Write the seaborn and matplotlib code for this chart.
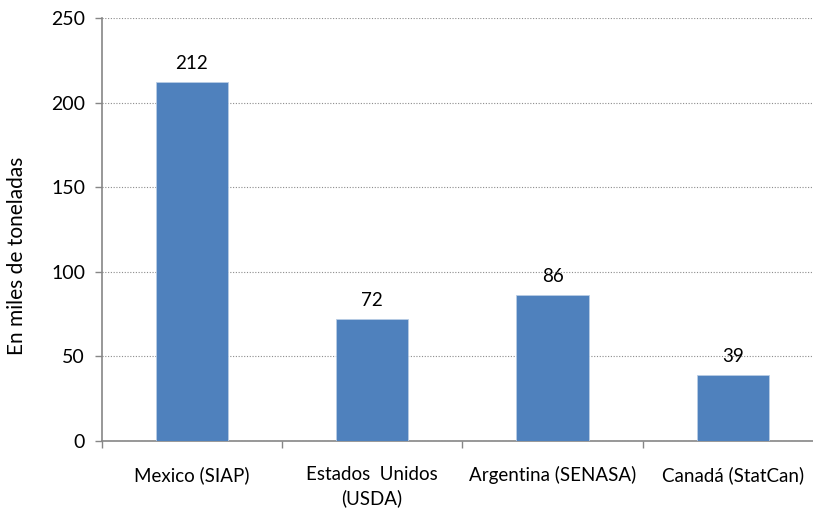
import matplotlib
matplotlib.use("Agg")
import matplotlib.pyplot as plt
import seaborn as sns
import pandas as pd

categories = ["Mexico (SIAP)", "Estados  Unidos\n(USDA)", "Argentina (SENASA)", "Canadá (StatCan)"]
values = [212, 72, 86, 39]
yticks = [0, 50, 100, 150, 200, 250]

sns.set_theme(style="white")
plt.rcParams['font.family'] = ['Lato', 'DejaVu Sans']

df = pd.DataFrame({"cat": categories, "val": values})

fig = plt.figure(figsize=(8.13, 5.12), dpi=100)
ax = fig.add_axes([101.7/813, 71/512, (823-101.7)/813, 423/512])
sns.barplot(data=df, x="cat", y="val", color="#4F81BD", width=0.4, saturation=1, ax=ax, zorder=3)
for p in ax.patches:
    p.set_edgecolor("#B9CDE5")
    p.set_linewidth(0.6)

ax.set_xlim(-0.5, len(categories) - 0.5)
ax.set_ylim(0, 250)
ax.set_yticks(yticks)
ax.yaxis.grid(True, linestyle=(0, (1, 1.5)), color="#8C8C8C", linewidth=0.8, zorder=0)
ax.xaxis.grid(False)

for i, v in enumerate(values):
    ax.text(i, v + 6, str(v), ha="center", va="bottom", fontsize=13.5, color="black")

ax.set_xlabel("")
ax.set_ylabel("En miles de toneladas", fontsize=15, color="black")
ax.yaxis.set_label_coords(-0.103, 0.437)
ax.tick_params(axis="x", which="major", length=0, pad=18, labelsize=13.5, labelcolor="black")
for lbl in ax.get_xticklabels():
    lbl.set_linespacing(1.45)
ax.tick_params(axis="y", length=5, width=1, color="#868686", direction="out", left=True, labelsize=14, labelcolor="black", pad=7)
ax.set_xticks([i + 0.5 for i in range(-1, len(categories))], minor=True)
ax.tick_params(axis="x", which="minor", length=5, width=1, color="#868686", direction="out", bottom=True)

for s in ["top", "right"]:
    ax.spines[s].set_visible(False)
for s in ["left", "bottom"]:
    ax.spines[s].set_color("#868686")
    ax.spines[s].set_linewidth(1.2)

fig.savefig("out.png", dpi=100)
